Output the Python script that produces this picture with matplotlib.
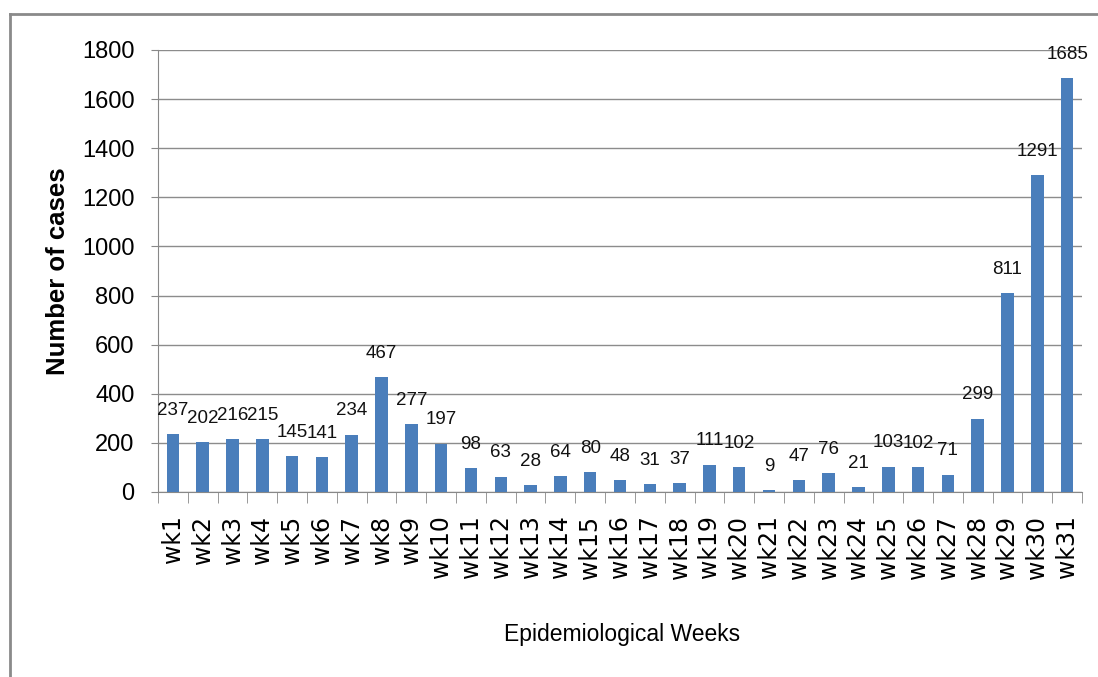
import matplotlib
matplotlib.use("Agg")
import matplotlib.pyplot as plt
from matplotlib.lines import Line2D
import numpy as np

weeks = [f"wk{i}" for i in range(1, 32)]
cases = [237, 202, 216, 215, 145, 141, 234, 467, 277, 197, 98, 63, 28, 64, 80,
         48, 31, 37, 111, 102, 9, 47, 76, 21, 103, 102, 71, 299, 811, 1291, 1685]
yticks = [0, 200, 400, 600, 800, 1000, 1200, 1400, 1600, 1800]

W, H = 1098, 677
fig = plt.figure(figsize=(W / 100, H / 100), dpi=100)
ax = fig.add_axes([158 / W, 1 - 492 / H, 924 / W, 442 / H])

x = np.arange(len(weeks))
bars = ax.bar(x, cases, width=0.42, color="#4a7ebb", zorder=3)

lib = ["Liberation Sans", "DejaVu Sans"]
for xi, v in zip(x, cases):
    ax.annotate(str(v), (xi, v), xytext=(0, 11), textcoords="offset points",
                ha="center", va="bottom", fontsize=13.5, family=lib, color="#111111")

ax.set_xlim(-0.5, len(weeks) - 0.5)
ax.set_ylim(0, 1800)
ax.set_yticks(yticks)
ax.set_yticklabels([str(t) for t in yticks], family=lib, fontsize=17)
ax.set_xticks(x)
ax.set_xticklabels(weeks, rotation=90, fontsize=17, family="DejaVu Sans")
ax.set_xticks(np.arange(-0.5, len(weeks)), minor=True)
ax.tick_params(axis="x", which="major", length=0, pad=17)
ax.tick_params(axis="x", which="minor", length=8, color="#888888")
ax.tick_params(axis="y", length=5, color="#888888", pad=12)

ax.grid(axis="y", color="#8c8c8c", linewidth=1, zorder=0)
ax.set_axisbelow(True)
for s in ["top", "right"]:
    ax.spines[s].set_visible(False)
for s in ["left", "bottom"]:
    ax.spines[s].set_color("#888888")

fig.text(58 / W, 1 - 271 / H, "Number of cases", rotation=90, ha="center", va="center",
         fontsize=18.5, fontweight="bold", family=lib)
fig.text(622 / W, 1 - 635 / H, "Epidemiological Weeks", ha="center", va="center",
         fontsize=16.5, family=lib)

# outer frame
fig.add_artist(Line2D([10 / W, 10 / W], [0, 1 - 14 / H], transform=fig.transFigure,
                      color="#8a8a8a", linewidth=2))
fig.add_artist(Line2D([10 / W, 1], [1 - 14 / H, 1 - 14 / H], transform=fig.transFigure,
                      color="#8a8a8a", linewidth=2))

fig.savefig("out.png", dpi=100)
